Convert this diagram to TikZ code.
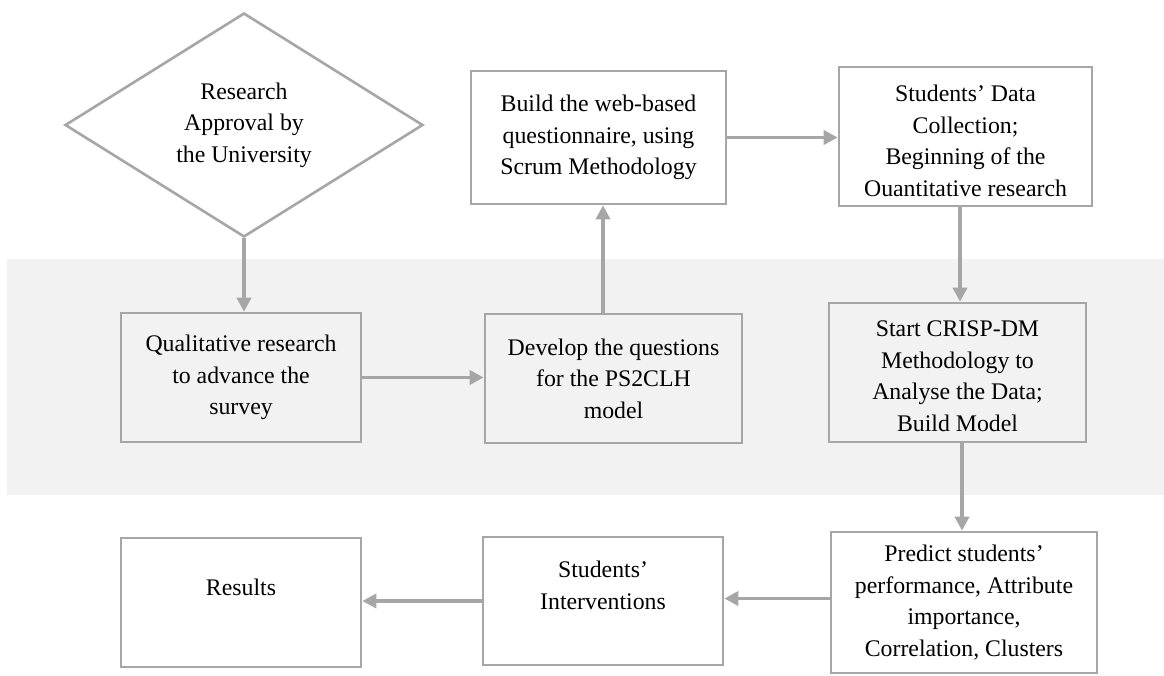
\documentclass[tikz,border=0pt]{standalone}
\usepackage{fontspec}
\setmainfont{Liberation Serif}
\usetikzlibrary{arrows.meta,shapes.geometric}
\definecolor{linegray}{HTML}{A6A6A6}
\definecolor{bandgray}{HTML}{F2F2F2}
\tikzset{
  box/.style={draw=linegray, line width=2.6pt, inner sep=0pt, align=center,
    font=\fontsize{23.8pt}{31.5pt}\selectfont},
  decision/.style={box, diamond, aspect=1.6},
  flow/.style={draw=linegray, line width=3.6pt, -{Triangle[length=14pt,width=14pt]}}
}
\begin{document}
\begin{tikzpicture}[x=1pt,y=-1pt]
\useasboundingbox (0,0) rectangle (1164,675);
% shaded middle band
\fill[bandgray] (7,259) rectangle (1164,495);

% process steps
\node[decision, minimum width=358pt, minimum height=224pt] (approval) at (244,125)
  {Research\\Approval by\\the University};
\node[box, minimum width=240pt, minimum height=129pt] (qual) at (241,377.5)
  {Qualitative research\\to advance the\\survey};
\node[box, minimum width=257pt, minimum height=129pt] (develop) at (613.5,378.5)
  {Develop the questions\\for the PS2CLH\\model};
\node[box, minimum width=255pt, minimum height=133pt] (build) at (598.5,137.5)
  {Build the web-based\\questionnaire, using\\Scrum Methodology};
\node[box, minimum width=253pt, minimum height=139pt] (data) at (965.5,136.5)
  {\rule{0pt}{25pt}Students’ Data\\Collection;\\Beginning of the\\Ouantitative research};
\node[box, minimum width=257pt, minimum height=139pt] (crisp) at (957.5,372.5)
  {\rule{0pt}{23pt}Start CRISP-DM\\Methodology to\\Analyse the Data;\\Build Model};
\node[box, minimum width=266pt, minimum height=141pt] (predict) at (964,602.5)
  {Predict students’\\performance, Attribute\\importance,\\Correlation, Clusters};
\node[box, minimum width=240pt, minimum height=128pt] (interv) at (603,601)
  {Students’\\Interventions\\\mbox{}};
\node[box, minimum width=240pt, minimum height=129pt] (results) at (241,602.5)
  {\rule{0pt}{12pt}Results\\\mbox{}};

% connectors
\draw[flow] (approval.south) -- (approval.south |- qual.north);
\draw[flow] (qual.east) -- (qual.east -| develop.west);
\draw[flow] ([xshift=-10.5pt]develop.north) -- ([xshift=-10.5pt]develop.north |- build.south);
\draw[flow] (build.east) -- (build.east -| data.west);
\draw[flow] ([xshift=-5.5pt]data.south) -- ([xshift=-5.5pt]data.south |- crisp.north);
\draw[flow] ([xshift=4.5pt]crisp.south) -- ([xshift=4.5pt]crisp.south |- predict.north);
\draw[flow] ([yshift=4pt]predict.west) -- ([yshift=4pt]predict.west -| interv.east);
\draw[flow] (interv.west) -- (interv.west -| results.east);
\end{tikzpicture}
\end{document}
